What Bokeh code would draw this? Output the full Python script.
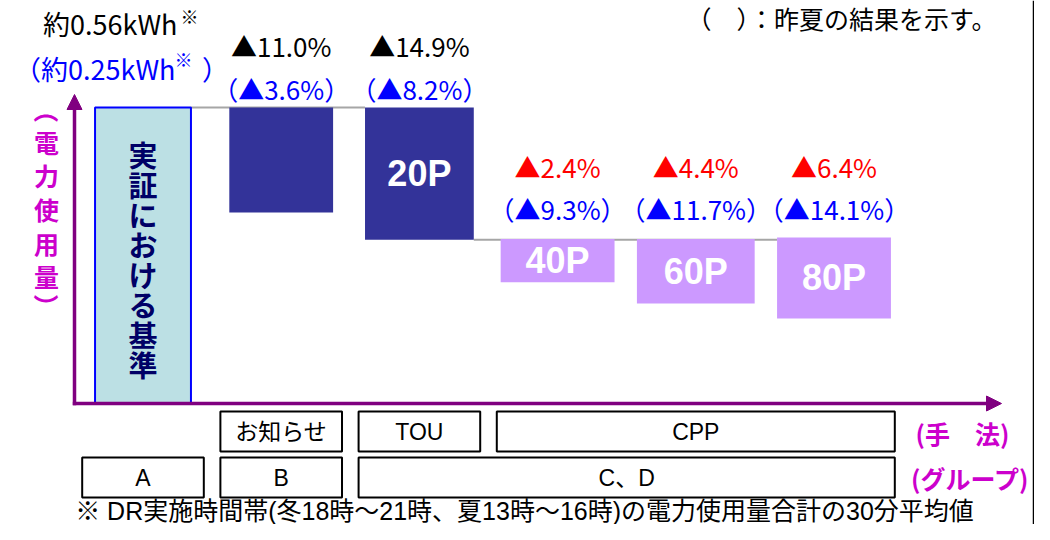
import numpy as np
from bokeh.plotting import figure
from bokeh.models import Range1d, Arrow, NormalHead, ColumnDataSource, Span
from bokeh.core.properties import value
from bokeh.embed import file_html
from bokeh.resources import INLINE

# ---------------- data ----------------
categories = ["実証における基準", "お知らせ", "20P", "40P", "60P", "80P"]
bar_names = ["", "", "20P", "40P", "60P", "80P"]
bar_top = [100.0, 100.0, 100.0, 55.6, 55.6, 56.1]      # relative usage (baseline = 100)
bar_bottom = [0.0, 64.5, 55.3, 41.0, 33.8, 28.7]
base_now = "約0.56kWh"
base_last = "約0.25kWh"
reduction_now = ["▲11.0%", "▲14.9%", "▲2.4%", "▲4.4%", "▲6.4%"]
reduction_last = ["▲3.6%", "▲8.2%", "▲9.3%", "▲11.7%", "▲14.1%"]
methods = ["お知らせ", "TOU", "CPP"]
method_first = [1, 2, 3]
method_last = [1, 2, 5]
groups = ["A", "B", "C、D"]
group_first = [0, 1, 2]
group_last = [0, 1, 5]
y_title = "（電力使用量）"
base_title = "実証における基準"
method_title = "(手　法)"
group_title = "(グループ)"
legend_note = "（　）：昨夏の結果を示す。"
footnote = "※ DR実施時間帯(冬18時～21時、夏13時～16時)の電力使用量合計の30分平均値"
mark = "※"

# ---------------- layout / style ----------------
W, H = 1034, 524
X0, XS = 142.5, 138.2      # pixel of first category, pixels per category
Y0, YS = 403.0, 2.96       # pixel of zero usage, pixels per unit


def gx(px):
    return (px - X0) / XS


def gy(py):
    return (Y0 - py) / YS


JP = "Noto Sans CJK JP"
MIX = "Liberation Sans, Noto Sans CJK JP"
LAT = "Liberation Sans"
PURPLE = "#800080"
MAGENTA = "#CC00CC"
NAVY = "#333399"
LILAC = "#CC99FF"
BASEFILL = "#BCE0E4"
BLUE = "#0000FF"
RED = "#FF0000"

bar_width = [0.694, 0.751, 0.787, 0.824, 0.852, 0.824]
bar_fill = [BASEFILL, NAVY, NAVY, LILAC, LILAC, LILAC]
bar_line_alpha = [1, 0, 0, 0, 0, 0]

p = figure(width=W, height=H,
           x_range=Range1d(gx(0), gx(W)),
           y_range=Range1d(gy(H), gy(0)),
           x_axis_location=None, y_axis_location=None,
           toolbar_location=None, output_backend="svg", min_border=0)
p.grid.visible = False
p.outline_line_color = None
p.background_fill_color = "white"
p.border_fill_color = "white"

idx = list(range(len(categories)))

# connector lines (waterfall steps)
p.segment(x0=[idx[0] + bar_width[0] / 2, idx[2] + bar_width[2] / 2],
          y0=[bar_top[0], bar_bottom[2]],
          x1=[idx[2] - bar_width[2] / 2, idx[5] - bar_width[5] / 2],
          y1=[bar_top[0], bar_bottom[2]],
          line_color="#A6A6A6", line_width=2)

src = ColumnDataSource(dict(
    x=idx, top=bar_top, bottom=bar_bottom, w=bar_width, fill=bar_fill,
    la=bar_line_alpha, name=bar_names,
    mid=[(t + b) / 2 for t, b in zip(bar_top, bar_bottom)]))
p.vbar(x="x", top="top", bottom="bottom", width="w", fill_color="fill",
       line_color=BLUE, line_alpha="la", line_width=2, source=src)
p.text(x="x", y="mid", text="name", text_color="white", text_font=value(LAT),
       text_font_style="bold", text_font_size="36px", text_align="center",
       text_baseline="middle", source=src)

# vertical text inside the baseline bar
chars = list(base_title)
p.text(x=[idx[0]] * len(chars), y=[gy(153 + 30 * k) for k in range(len(chars))],
       text=chars, text_color="#000066", text_font=value(JP), text_font_style="bold",
       text_font_size="29px", text_align="center", text_baseline="middle")

# y axis title (vertical)
ychars = list(y_title)
ypos = [110, 141, 174, 208, 242, 275, 306]
yang = [-np.pi / 2 if c in "（）" else 0 for c in ychars]
p.text(x=[gx(46)] * len(ychars), y=[gy(v) for v in ypos], text=ychars, angle=yang,
       text_color=MAGENTA, text_font=value(JP), text_font_style="bold",
       text_font_size="25px", text_align="center", text_baseline="middle")

# reduction labels
now_color = ["black", "black", RED, RED, RED]
now_py = [45, 45, 166, 166, 166]
last_py = [88, 88, 208, 208, 208]
p.text(x=idx[1:], y=[gy(v) for v in now_py], text=reduction_now, text_color=now_color,
       text_font=value(JP), text_font_size="26px", text_align="center",
       text_baseline="middle")
p.text(x=idx[1:], y=[gy(v) for v in last_py], text=["（%s）" % v for v in reduction_last],
       text_color=BLUE, text_font=value(JP), text_font_size="26px",
       text_align="center", text_baseline="middle")

# baseline value labels
p.text(x=[gx(177)], y=[gy(23)], text=[base_now], text_color="black", text_font=value(JP),
       text_font_size="27px", text_align="right", text_baseline="middle")
p.text(x=[gx(189)], y=[gy(15)], text=[mark], text_color="black", text_font=value(JP),
       text_font_size="18px", text_align="center", text_baseline="middle")
p.text(x=[gx(175)], y=[gy(68)], text=["（" + base_last], text_color=BLUE, text_font=value(JP),
       text_font_size="27px", text_align="right", text_baseline="middle")
p.text(x=[gx(183)], y=[gy(58)], text=[mark], text_color=BLUE, text_font=value(JP),
       text_font_size="18px", text_align="center", text_baseline="middle")
p.text(x=[gx(215)], y=[gy(68)], text=["）"], text_color=BLUE, text_font=value(JP),
       text_font_size="27px", text_align="center", text_baseline="middle")

# method / group boxes
pad = 0.44
p.quad(left=[f - pad for f in method_first], right=[l + pad for l in method_last],
       top=gy(411), bottom=gy(451), fill_color=None, line_color="black", line_width=2)
p.text(x=[(f + l) / 2 for f, l in zip(method_first, method_last)], y=gy(431), text=methods,
       text_color="black", text_font=value(MIX), text_font_size="23px",
       text_align="center", text_baseline="middle")
p.quad(left=[f - pad for f in group_first], right=[l + pad for l in group_last],
       top=gy(457), bottom=gy(497), fill_color=None, line_color="black", line_width=2)
p.text(x=[(f + l) / 2 for f, l in zip(group_first, group_last)], y=gy(477), text=groups,
       text_color="black", text_font=value(MIX), text_font_size="23px",
       text_align="center", text_baseline="middle")

p.text(x=[gx(962), gx(970)], y=[gy(432), gy(477)], text=[method_title, group_title],
       text_color=MAGENTA, text_font=value(JP), text_font_style="bold",
       text_font_size="25px", text_align="center", text_baseline="middle")

# notes
p.text(x=[gx(841)], y=[gy(17)], text=[legend_note], text_color="black", text_font=value(JP),
       text_font_size="25px", text_align="center", text_baseline="middle")
p.text(x=[gx(524)], y=[gy(510)], text=[footnote], text_color="black", text_font=value(MIX),
       text_font_size="25px", text_align="center", text_baseline="middle")

# axes (arrows)
p.add_layout(Arrow(end=NormalHead(size=15, fill_color=PURPLE, line_color=PURPLE),
                   x_start=gx(74), y_start=gy(404.7), x_end=gx(74), y_end=gy(94),
                   line_color=PURPLE, line_width=3.5))
p.add_layout(Arrow(end=NormalHead(size=15, fill_color=PURPLE, line_color=PURPLE),
                   x_start=gx(72.3), y_start=0, x_end=gx(1001), y_end=0,
                   line_color=PURPLE, line_width=3.5))

# frame edge on the right
p.add_layout(Span(location=gx(1033), dimension="height", line_color="black", line_width=1.5))

open("out.html", "w").write(file_html(p, INLINE))
